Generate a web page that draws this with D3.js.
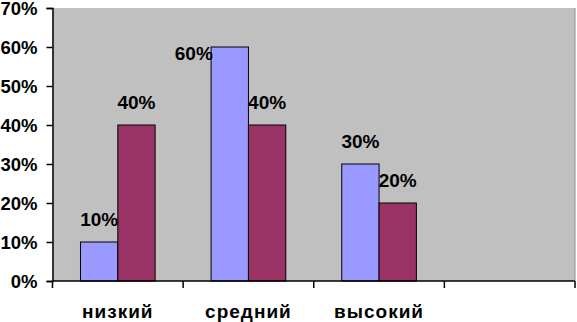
<!DOCTYPE html>
<html>
<head>
<meta charset="utf-8">
<script src="https://cdn.jsdelivr.net/npm/d3@7"></script>
<style>
  html, body { margin: 0; padding: 0; background: #fff; }
  svg { display: block; font-family: "Liberation Sans", Arial, sans-serif; }
</style>
</head>
<body>
<div class="chart"></div>
<script>
// data
const categories = ["низкий", "средний", "высокий", ""];
const series1 = [10, 60, 30, null];
const series2 = [40, 40, 20, null];
const yTicks = [0, 10, 20, 30, 40, 50, 60, 70];

// label nudges (Excel moved the 60% label out of the frame)
const labelShift1 = [[0, 0], [-36, 29], [0, 0], [0, 0]];
const labelShift2 = [[0, 0], [0, 0], [0, 0], [0, 0]];

const svgW = 577;
const svgH = 322;
const padL = 52.5, padR = 575, padT = 8, padB = 281;

const svg = d3.select(".chart")
    .append("svg")
    .attr("width", svgW)
    .attr("height", svgH);

const x0 = d3.scaleBand()
    .domain(d3.range(categories.length))
    .range([padL, padR])
    .padding(0);

const bw = x0.bandwidth();
const barW = bw / 3.5;   // gap width 150%

const x1 = d3.scaleBand()
    .domain([0, 1])
    .range([barW * 0.75, barW * 2.75])
    .padding(0);

const y = d3.scaleLinear()
    .domain([0, 70])
    .range([padB, padT]);

// plot area
svg.append("rect")
    .attr("x", padL)
    .attr("y", padT)
    .attr("width", padR - padL)
    .attr("height", padB - padT)
    .attr("fill", "#c0c0c0");

svg.append("line")
    .attr("x1", padR).attr("x2", padR)
    .attr("y1", padT).attr("y2", padB)
    .attr("stroke", "#8c8c8c");

const rows = categories.map((c, i) => ({ i, vals: [series1[i], series2[i]], shifts: [labelShift1[i], labelShift2[i]] }));
const colors = ["#9999ff", "#993366"];

const groups = svg.selectAll("g.grp")
    .data(rows)
    .enter()
    .append("g")
    .attr("class", "grp")
    .attr("transform", d => `translate(${x0(d.i)},0)`);

groups.selectAll("rect")
    .data(d => d.vals.map((v, k) => ({ v, k })).filter(e => e.v != null))
    .enter()
    .append("rect")
    .attr("x", d => x1(d.k))
    .attr("y", d => y(d.v))
    .attr("width", x1.bandwidth())
    .attr("height", d => padB - y(d.v))
    .attr("fill", d => colors[d.k])
    .attr("stroke", "#000")
    .attr("stroke-width", 1);

groups.selectAll("text.lbl")
    .data(d => d.vals.map((v, k) => ({ v, k, s: d.shifts[k] })).filter(e => e.v != null))
    .enter()
    .append("text")
    .attr("class", "lbl")
    .attr("x", d => x1(d.k) + x1.bandwidth() / 2 + d.s[0])
    .attr("y", d => y(d.v) - 16 + d.s[1])
    .attr("text-anchor", "middle")
    .style("font-size", "19px")
    .style("font-weight", "bold")
    .text(d => d.v + "%");

// axes
const yAxis = svg.append("g")
    .attr("transform", `translate(${padL},0)`)
    .call(d3.axisLeft(y).tickValues(yTicks).tickSize(6).tickPadding(9).tickFormat(d => d + "%"));
yAxis.select(".domain").attr("stroke", "#000").attr("stroke-width", 1.5);
yAxis.selectAll(".tick line").attr("stroke", "#000").attr("stroke-width", 1.5);
yAxis.selectAll(".tick text")
    .attr("fill", "#000")
    .attr("dy", "0.36em")
    .style("font-size", "18.5px")
    .style("font-weight", "bold")
    .style("font-family", "'Liberation Sans', Arial, sans-serif");

const xEdges = d3.range(categories.length + 1).map(i => padL + i * bw);
const xAxis = svg.append("g");
xAxis.append("line")
    .attr("x1", padL - 0.75).attr("x2", padR)
    .attr("y1", padB).attr("y2", padB)
    .attr("stroke", "#000").attr("stroke-width", 1.5);
xAxis.selectAll("line.tk")
    .data(xEdges)
    .enter()
    .append("line")
    .attr("class", "tk")
    .attr("x1", d => d).attr("x2", d => d)
    .attr("y1", padB).attr("y2", padB + 7)
    .attr("stroke", "#000").attr("stroke-width", 1.5);

xAxis.selectAll("text")
    .data(categories)
    .enter()
    .append("text")
    .attr("x", (d, i) => x0(i) + bw / 2)
    .attr("y", 318)
    .attr("text-anchor", "middle")
    .style("font-size", "19px")
    .style("font-weight", "bold")
    .style("letter-spacing", "1px")
    .text(d => d);
</script>
</body>
</html>
